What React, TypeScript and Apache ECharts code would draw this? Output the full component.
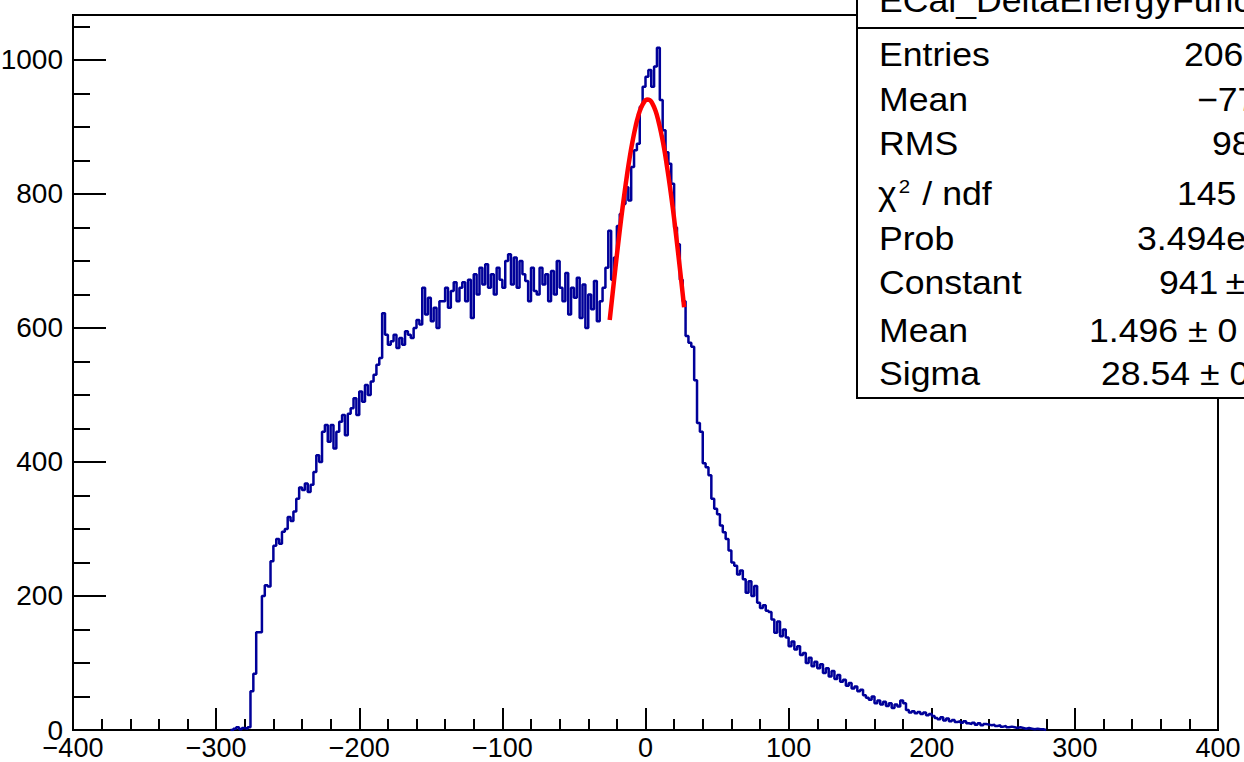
import React, { useEffect, useRef } from "react";
import * as echarts from "echarts";

// Histogram: bins of width 2 starting at BIN_START
const BIN_START = -290;
const BIN_WIDTH = 2;
const counts = [
  0, 2, 4, 1, 3, 2, 4, 58, 84, 146,
  146, 200, 216, 214, 252, 275, 285, 278, 296, 300,
  318, 312, 326, 345, 362, 358, 368, 355, 366, 385,
  410, 400, 445, 455, 430, 455, 420, 445, 460, 470,
  440, 472, 480, 495, 470, 505, 490, 515, 500, 520,
  530, 545, 555, 622, 590, 575, 580, 590, 570, 585,
  575, 595, 590, 585, 600, 612, 605, 660, 620, 645,
  610, 630, 600, 640, 640, 660, 630, 655, 668, 640,
  660, 668, 640, 672, 615, 680, 650, 690, 665, 695,
  660, 680, 650, 690, 672, 660, 700, 710, 665, 705,
  660, 700, 680, 670, 640, 690, 655, 650, 690, 665,
  680, 640, 685, 650, 700, 660, 640, 682, 620, 660,
  645, 675, 615, 665, 600, 650, 628, 670, 610, 640,
  660, 690, 745, 672, 705, 752, 770, 785, 810, 790,
  840, 865, 875, 930, 960, 975, 985, 960, 990, 1018,
  940, 895, 862, 845, 815, 750, 725, 672, 640, 588,
  578, 572, 522, 458, 445, 398, 392, 380, 345, 330,
  322, 305, 295, 285, 268, 250, 245, 232, 238, 225,
  205, 222, 200, 215, 190, 182, 186, 178, 176, 165,
  145, 162, 140, 150, 138, 125, 132, 120, 125, 112,
  115, 100, 108, 95, 102, 92, 98, 85, 92, 80,
  88, 76, 82, 72, 75, 66, 70, 62, 65, 58,
  60, 52, 48, 45, 50, 40, 44, 38, 42, 36,
  40, 33, 38, 35, 44, 40, 30, 26, 28, 25,
  27, 24, 26, 22, 24, 21, 18, 16, 19, 14,
  17, 13, 15, 12, 13, 11, 13, 10, 9, 11,
  8, 10, 7, 9, 8, 7, 8, 6, 7, 5,
  6, 4, 5, 4, 3, 4, 3, 2, 3, 2,
  1, 2, 1, 1, 0,
];

// Gaussian fit curve
const fitX = [-25, -23, -21, -19, -17, -15, -13, -11, -9, -7, -5, -3, -1, 1, 3, 5, 7, 9, 11, 13, 15, 17, 19, 21, 23, 25, 27];
const fitY = [612, 651, 690, 727, 763, 796, 827, 855, 879, 900, 917, 929, 937, 941, 940, 934, 924, 909, 890, 868, 841, 812, 780, 745, 708, 670, 631];

const xTicks = { min: -400, max: 400, interval: 100 };
const yMax = 1067;
const yMajor = [0, 200, 400, 600, 800, 1000];
const yMinor = [50, 100, 150, 250, 300, 350, 450, 500, 550, 650, 700, 750, 850, 900, 950, 1050];

const title = "ECal_DeltaEnergyFunction";
const statLabels = ["Entries", "Mean", "RMS", "CHI", "Prob", "Constant", "Mean", "Sigma"];
const statValues = ["206", "\u221277", "98", "145", "3.494e", "941\u2009\u00b1", "1.496 \u00b1 0", "28.54 \u00b1 0"];

const FONT = "'Liberation Sans', Arial, Helvetica, sans-serif";

export default function App() {
  const ref = useRef<HTMLDivElement>(null);
  useEffect(() => {
    if (!ref.current) return;
    const chart = echarts.init(ref.current, null, { renderer: "svg" });

    const histData: number[][] = counts.map((c, i) => [BIN_START + i * BIN_WIDTH, c]);
    histData.push([BIN_START + counts.length * BIN_WIDTH, counts[counts.length - 1]]);
    const fitData = fitX.map((x, i) => [x, fitY[i]]);

    const rowY = [54, 99, 143, 193, 238, 282, 330, 373];
    const valX = [1184, 1197, 1212, 1177, 1137, 1159, 1089, 1101];
    const fs = 33;
    const sx = 1.08;

    const graphics: any[] = [
      {
        type: "rect",
        z: 100,
        shape: { x: 857, y: -10, width: 420, height: 38 },
        style: { fill: "#fff", stroke: "#000", lineWidth: 2 },
      },
      {
        type: "text",
        z: 101,
        x: 879,
        y: 0.5,
        scaleX: sx,
        style: { text: title, font: `${fs}px ${FONT}`, fill: "#000", verticalAlign: "middle", align: "left" },
      },
      {
        type: "rect",
        z: 100,
        shape: { x: 857, y: 28, width: 420, height: 370 },
        style: { fill: "#fff", stroke: "#000", lineWidth: 2 },
      },
    ];
    statLabels.forEach((lab, i) => {
      if (lab === "CHI") {
        graphics.push({
          type: "text",
          z: 101,
          x: 878,
          y: rowY[i],
          scaleX: sx,
          style: {
            text: "{a|\u03c7}{s|2}{a| / ndf}",
            verticalAlign: "middle",
            align: "left",
            rich: {
              a: { fontFamily: FONT, fontSize: fs, fill: "#000" },
              s: { fontFamily: FONT, fontSize: 19, fill: "#000", verticalAlign: "top", padding: [0, 2, 14, 2] },
            },
          },
        });
      } else {
        graphics.push({
          type: "text",
          z: 101,
          x: 879,
          y: rowY[i],
          scaleX: sx,
          style: { text: lab, font: `${fs}px ${FONT}`, fill: "#000", verticalAlign: "middle", align: "left" },
        });
      }
      graphics.push({
        type: "text",
        z: 101,
        x: valX[i],
        y: rowY[i],
        scaleX: sx,
        style: { text: statValues[i], font: `${fs}px ${FONT}`, fill: "#000", verticalAlign: "middle", align: "left" },
      });
    });

    chart.setOption({
      animation: false,
      backgroundColor: "#fff",
      grid: {
        left: 73,
        right: 26,
        top: 15,
        bottom: 32,
        containLabel: false,
        outerBoundsMode: "none",
        show: true,
        borderColor: "#000",
        borderWidth: 2,
        backgroundColor: "transparent",
      },
      xAxis: {
        type: "value",
        min: xTicks.min,
        max: xTicks.max,
        interval: xTicks.interval,
        splitLine: { show: false },
        axisLine: { show: true, onZero: false, lineStyle: { color: "#000", width: 2 } },
        axisTick: { show: true, inside: true, length: 22, lineStyle: { color: "#000", width: 2 } },
        minorTick: { show: true, splitNumber: 5, length: 11, lineStyle: { color: "#000", width: 2 } },
        minorSplitLine: { show: false },
        axisLabel: {
          show: true,
          margin: 4,
          color: "#000",
          fontFamily: FONT,
          fontSize: 27,
          formatter: (v: number) => String(v).replace("-", "\u2212"),
        },
      },
      yAxis: [
        {
          type: "value",
          min: 0,
          max: yMax,
          position: "left",
          splitLine: { show: false },
          axisLine: { show: true, onZero: false, lineStyle: { color: "#000", width: 2 } },
          axisTick: { show: true, inside: true, length: 33, customValues: yMajor, lineStyle: { color: "#000", width: 2 } },
          axisLabel: {
            show: true,
            customValues: yMajor,
            margin: 10,
            color: "#000",
            fontFamily: FONT,
            fontSize: 28,
            formatter: (v: number) => String(v),
          },
        },
        {
          type: "value",
          min: 0,
          max: yMax,
          position: "left",
          offset: 0,
          splitLine: { show: false },
          axisLine: { show: false, onZero: false },
          axisTick: { show: true, inside: true, length: 17, customValues: yMinor, lineStyle: { color: "#000", width: 2 } },
          axisLabel: { show: false },
        },
      ],
      series: [
        {
          type: "line",
          data: histData,
          step: "end",
          showSymbol: false,
          symbol: "none",
          lineStyle: { color: "#000099", width: 2.5 },
          z: 5,
        },
        {
          type: "line",
          data: fitData,
          showSymbol: false,
          symbol: "none",
          smooth: true,
          lineStyle: { color: "#ff0000", width: 4.5 },
          z: 6,
        },
      ],
      graphic: graphics,
    });
    return () => chart.dispose();
  }, []);

  return (
    <div
      ref={ref}
      style={{ position: "fixed", left: 0, top: 0, width: 1244, height: 762, background: "#fff" }}
    />
  );
}
